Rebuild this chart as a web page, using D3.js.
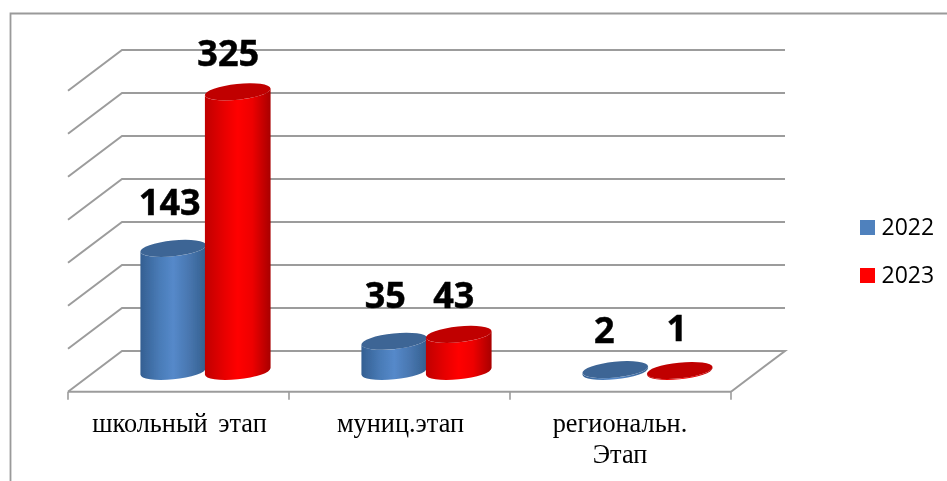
<!DOCTYPE html>
<html><head><meta charset="utf-8">
<script src="https://d3js.org/d3.v7.min.js"></script>
<style>html,body{margin:0;padding:0;background:#fff}svg{display:block}</style>
</head><body><div id="c"></div>
<script>
const categories = ["школьный этап", "муниц.этап", "региональн. Этап"];
const categoryLines = [["школьный этап"], ["муниц.этап"], ["региональн.", "Этап"]];
const seriesNames = ["2022", "2023"];
const values2022 = [143, 35, 2];
const values2023 = [325, 43, 1];
const yTicks = [0, 50, 100, 150, 200, 250, 300, 350];
const seriesColors = [
  {side:["#345f92","#4a7cb8","#5589ca","#4a78b2","#34608f"], top:"#3d6595", key:"#4f81bd"},
  {side:["#c00000","#e80000","#ff0000","#ee0000","#a80000"], top:"#c00000", key:"#ff0000"}
];

const W = 947, H = 481;
const svg = d3.select("#c").append("svg").attr("width", W).attr("height", H).attr("viewBox",`0 0 ${W} ${H}`);
const defs = svg.append("defs");
seriesColors.forEach((s,i)=>{
  const g = defs.append("linearGradient").attr("id","g"+i).attr("x1",0).attr("x2",1).attr("y1",0).attr("y2",0);
  s.side.forEach((c,k)=>g.append("stop").attr("offset",[0,.3,.5,.72,1][k]).attr("stop-color",c));
});
defs.append("filter").attr("id","soft").attr("x","-5%").attr("y","-5%").attr("width","110%").attr("height","110%")
  .append("feGaussianBlur").attr("stdDeviation",0.5);
defs.append("filter").attr("id","softText").attr("x","-5%").attr("y","-5%").attr("width","110%").attr("height","110%")
  .append("feGaussianBlur").attr("stdDeviation",0.3);

// frame
svg.append("path").attr("d",`M10.5,${H} V13.5 H${W}`).attr("fill","none").attr("stroke","#9a9a9a").attr("stroke-width",1.8);

// scales
const depthX = 54, depthY = 40.7;
const x = d3.scaleBand().domain(categories).range([68,731]).padding(0);
const xs = d3.scaleBand().domain(seriesNames).range([0,129]);
const y = d3.scaleLinear().domain([0,350]).range([391.7,90.7]);   // front plane
const midDX = depthX/2, midDY = depthY/2;

const plot = svg.append("g").attr("filter","url(#soft)");
// grid
const gridColor = "#9c9c9c";
const x0 = x.range()[0], x1 = x.range()[1];
yTicks.forEach(t=>{
  const yf = y(t), yb = yf - depthY;
  const pts = t===0
    ? [[x1,yf],[x1+depthX,yb],[x0+depthX,yb],[x0,yf]]
    : [[x1+depthX,yb],[x0+depthX,yb],[x0,yf]];
  plot.append("path").attr("d",d3.line()(pts)).attr("fill","none").attr("stroke",gridColor).attr("stroke-width",2);
});
// front axis
plot.append("line").attr("x1",x0).attr("x2",x1).attr("y1",y(0)).attr("y2",y(0)).attr("stroke",gridColor).attr("stroke-width",2);
d3.range(categories.length+1).forEach(i=>{
  const px = x0 + i*x.step();
  plot.append("line").attr("x1",px).attr("x2",px).attr("y1",y(0)).attr("y2",y(0)+8).attr("stroke",gridColor).attr("stroke-width",1.6);
});

// cylinders
const a = 33, b = 7.9, deg = -6, th = deg*Math.PI/180;
const ext = Math.sqrt(a*a*Math.cos(th)**2 + b*b*Math.sin(th)**2);
const yAtExt = (a*a-b*b)*Math.sin(th)*Math.cos(th)/ext;
function cyl(g, cx, v, si){
  const yBase = y(0) - midDY, yTop = y(v) - midDY;
  const L = cx-ext, R = cx+ext;
  const yl = -yAtExt, yr = yAtExt;
  g.append("path")
   .attr("d",`M${L},${yTop+yl} L${L},${yBase+yl} A${a},${b} ${deg} 0 0 ${R},${yBase+yr} L${R},${yTop+yr} A${a},${b} ${deg} 0 1 ${L},${yTop+yl} Z`)
   .attr("fill",`url(#g${si})`);
  g.append("ellipse").attr("cx",cx).attr("cy",yTop).attr("rx",a).attr("ry",b)
   .attr("transform",`rotate(${deg} ${cx} ${yTop})`).attr("fill",seriesColors[si].top);
}
const barOrder = [];
categories.forEach((c,ci)=>{
  const left = x(c) + x.step()/2 + midDX - 64.5;
  [values2022,values2023].forEach((vals,si)=>{
    barOrder.push({cx:left + xs(seriesNames[si]) + xs.bandwidth()/2, v:vals[ci], si});
  });
});
barOrder.forEach(d=>cyl(plot,d.cx,d.v,d.si));

// data labels
const labelDY = [[-33,-33,-27],[-26,-26,-29]];
const labelDX = [[-3.5,-9,-11],[-9.5,-5,-3]];
const labels = svg.append("g").attr("filter","url(#softText)").attr("font-family","'Open Sans', sans-serif").attr("font-weight",700).attr("font-size",36).attr("fill","#000").attr("stroke","#000").attr("stroke-width",0.5).attr("text-anchor","middle");
barOrder.forEach((d,i)=>{
  const ci = Math.floor(i/2);
  labels.append("text").attr("x",d.cx+labelDX[d.si][ci]).attr("y",y(d.v)-midDY+labelDY[d.si][ci]).text(d.v);
});

// category labels
const catG = svg.append("g").attr("filter","url(#softText)").attr("font-family","'Liberation Serif', serif").attr("font-size",26.3).attr("word-spacing",4).attr("fill","#000").attr("text-anchor","middle");
categories.forEach((c,i)=>{
  categoryLines[i].forEach((t,k)=>{
    catG.append("text").attr("x",x(c)+x.step()/2+ (i===2?-0.5:1)).attr("y",432+k*31).text(t);
  });
});

// legend
const leg = svg.append("g").attr("filter","url(#softText)");
seriesNames.forEach((n,i)=>{
  const ly = 220+i*48;
  leg.append("rect").attr("x",860).attr("y",ly).attr("width",15).attr("height",15).attr("fill",seriesColors[i].key);
  leg.append("text").attr("x",881.5).attr("y",ly+15).attr("font-family","'Open Sans', sans-serif").attr("font-size",23).attr("fill","#000").text(n);
});
</script></body></html>
